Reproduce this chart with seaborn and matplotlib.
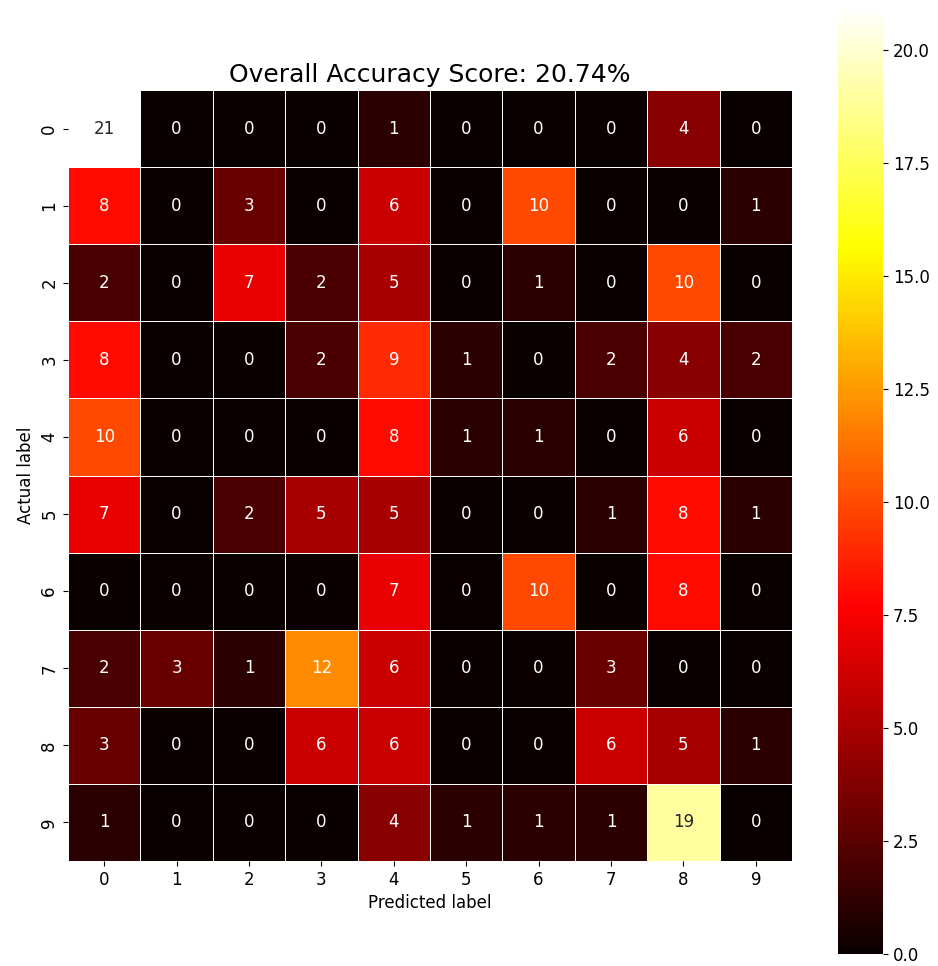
"""
混淆矩阵热力图
"""
import numpy as np
import matplotlib
matplotlib.use('Agg')
import matplotlib.pyplot as plt
import seaborn as sns

labels = ['0', '1', '2', '3', '4', '5', '6', '7', '8', '9']

row_0 = [21, 0, 0, 0, 1, 0, 0, 0, 4, 0]
row_1 = [8, 0, 3, 0, 6, 0, 10, 0, 0, 1]
row_2 = [2, 0, 7, 2, 5, 0, 1, 0, 10, 0]
row_3 = [8, 0, 0, 2, 9, 1, 0, 2, 4, 2]
row_4 = [10, 0, 0, 0, 8, 1, 1, 0, 6, 0]
row_5 = [7, 0, 2, 5, 5, 0, 0, 1, 8, 1]
row_6 = [0, 0, 0, 0, 7, 0, 10, 0, 8, 0]
row_7 = [2, 3, 1, 12, 6, 0, 0, 3, 0, 0]
row_8 = [3, 0, 0, 6, 6, 0, 0, 6, 5, 1]
row_9 = [1, 0, 0, 0, 4, 1, 1, 1, 19, 0]

cm = np.array([row_0, row_1, row_2, row_3, row_4,
               row_5, row_6, row_7, row_8, row_9])
score = np.trace(cm) / cm.sum()

plt.rcParams['font.size'] = 12

W, H = 938, 966
fig = plt.figure(figsize=(W / 100, H / 100), dpi=100)
# 坐标 (像素) -> figure 比例
ax = fig.add_axes([68 / W, 1 - 861 / H, 724 / W, 771 / H])
cax = fig.add_axes([838 / W, 1 - 954 / H, 45 / W, 949 / H])

sns.heatmap(cm, annot=True, fmt='d', cmap='hot', linewidths=0.5,
            linecolor='white', xticklabels=labels, yticklabels=labels,
            annot_kws={'fontsize': 12}, ax=ax, cbar_ax=cax)
ax.set_xlabel('Predicted label', fontsize=12)
ax.set_ylabel('Actual label', fontsize=12)
ax.tick_params(labelsize=12)
ax.set_title(f'Overall Accuracy Score: {score * 100:.2f}%', fontsize=18)
cax.set_yticks(np.arange(0, 21, 2.5))
cax.set_yticklabels([f'{v:.1f}' for v in np.arange(0, 21, 2.5)])
cax.tick_params(labelsize=12)

fig.savefig('out.png', dpi=100)
plt.close(fig)
